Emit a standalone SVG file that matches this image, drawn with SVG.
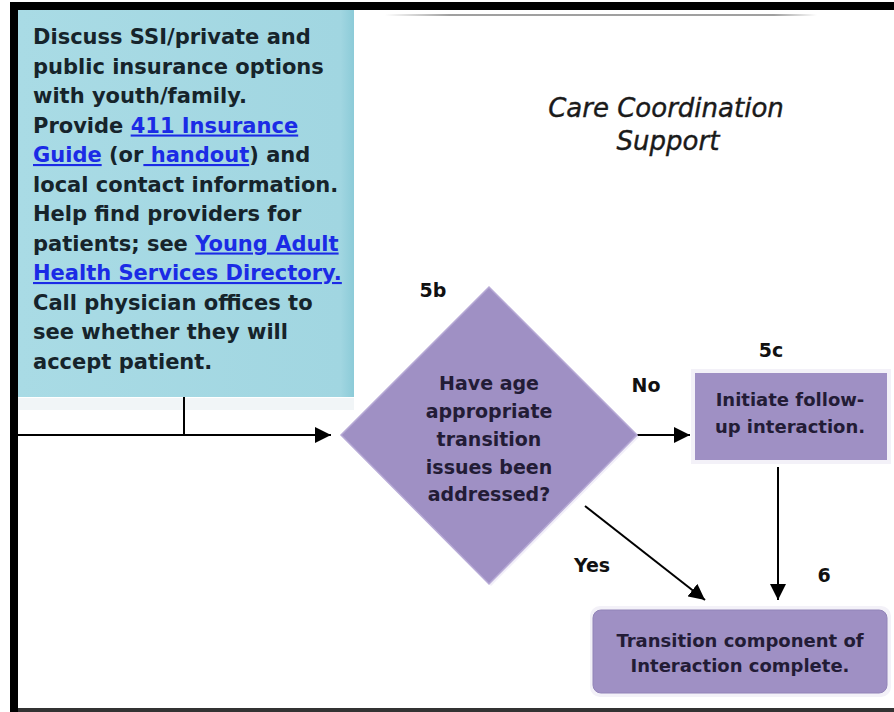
<svg xmlns="http://www.w3.org/2000/svg" width="894" height="712" viewBox="0 0 894 712">
  <defs>
    <style>
      .body { font-family: "DejaVu Sans", "Liberation Sans", sans-serif; font-weight: bold; font-size: 21px; fill: #16242b; }
      .link { fill: #1b2be6; text-decoration: underline; }
      .ptext { font-family: "DejaVu Sans", "Liberation Sans", sans-serif; fill: #231c36; text-anchor: middle; }
      .lbl { font-family: "DejaVu Sans", "Liberation Sans", sans-serif; font-weight: bold; font-size: 19px; fill: #111; text-anchor: middle; }
      .title { font-family: "DejaVu Sans", "Liberation Sans", sans-serif; font-style: italic; font-size: 26px; fill: #1a1a1a; stroke: #1a1a1a; stroke-width: 0.4; text-anchor: middle; }
      .conn { stroke: #000; stroke-width: 2; fill: none; }
      .purple { fill: #9f90c4; }
    </style>
    <marker id="arrowL" viewBox="0 0 10 10" refX="10" refY="5" markerWidth="8" markerHeight="8" orient="auto">
      <path d="M0,0 L10,5 L0,10 z" fill="#000"/>
    </marker>
    <linearGradient id="blueGrad" x1="0" y1="0" x2="1" y2="0">
      <stop offset="0" stop-color="#a9dbe5"/>
      <stop offset="0.96" stop-color="#a1d6e1"/>
      <stop offset="1" stop-color="#8ccbd8"/>
    </linearGradient>
    <linearGradient id="topLine" x1="0" y1="0" x2="1" y2="0">
      <stop offset="0" stop-color="#888" stop-opacity="0"/>
      <stop offset="0.15" stop-color="#888" stop-opacity="0.8"/>
      <stop offset="0.9" stop-color="#888" stop-opacity="0.8"/>
      <stop offset="1" stop-color="#888" stop-opacity="0"/>
    </linearGradient>
  </defs>

  <rect x="0" y="0" width="894" height="712" fill="#ffffff"/>

  <!-- frame -->
  <g id="frame">
    <rect x="10" y="2" width="884" height="8" fill="#000"/>
    <rect x="10" y="2" width="8" height="710" fill="#000"/>
    <rect x="18" y="708" width="876" height="4" fill="#333"/>
    <rect x="385" y="14" width="432" height="2" fill="url(#topLine)"/>
  </g>

  <!-- 5a: blue box -->
  <g id="node-5a">
    <rect x="18" y="398" width="336" height="12" fill="#f1f5f7"/>
    <rect x="18" y="10" width="336" height="387" fill="url(#blueGrad)"/>
    <text class="body" x="33" y="44">Discuss SSI/private and</text>
    <text class="body" x="33" y="73.5">public insurance options</text>
    <text class="body" x="33" y="103">with youth/family.</text>
    <text class="body" x="33" y="132.5">Provide <tspan class="link">411 Insurance</tspan></text>
    <text class="body" x="33" y="162"><tspan class="link">Guide</tspan> (or<tspan class="link"> handout</tspan>) and</text>
    <text class="body" x="33" y="191.5">local contact information.</text>
    <text class="body" x="33" y="221">Help find providers for</text>
    <text class="body" x="33" y="250.5">patients; see <tspan class="link">Young Adult</tspan></text>
    <text class="body" x="33" y="280"><tspan class="link">Health Services Directory.</tspan></text>
    <text class="body" x="33" y="309.5">Call physician offices to</text>
    <text class="body" x="33" y="339">see whether they will</text>
    <text class="body" x="33" y="368.5">accept patient.</text>
  </g>

  <!-- title -->
  <g id="title">
    <text class="title" x="666" y="117">Care Coordination</text>
    <text class="title" x="668" y="150">Support</text>
  </g>

  <!-- connectors -->
  <g id="connectors">
    <line class="conn" x1="184" y1="397" x2="184" y2="435"/>
    <line class="conn" x1="18" y1="435" x2="331" y2="435" marker-end="url(#arrowL)"/>
    <line class="conn" x1="636" y1="435" x2="690" y2="435" marker-end="url(#arrowL)"/>
    <line class="conn" x1="778" y1="467" x2="778" y2="600" marker-end="url(#arrowL)"/>
    <line class="conn" x1="585" y1="506" x2="705" y2="600" marker-end="url(#arrowL)"/>
  </g>

  <!-- 5b: decision diamond -->
  <g id="node-5b">
    <polygon points="489,287 637,435 489,584 341,435" fill="#f1eef8" transform="translate(2,2)"/>
    <polygon class="purple" points="489,287 637,435 489,584 341,435" fill="#9d8dc1" stroke="#b7aad6" stroke-width="1.5"/>
    <text class="ptext" font-weight="bold" font-size="19" x="489" y="390">Have age</text>
    <text class="ptext" font-weight="bold" font-size="19" x="489" y="418">appropriate</text>
    <text class="ptext" font-weight="bold" font-size="19" x="489" y="446">transition</text>
    <text class="ptext" font-weight="bold" font-size="19" x="489" y="474">issues been</text>
    <text class="ptext" font-weight="bold" font-size="19" x="489" y="501">addressed?</text>
  </g>

  <!-- 5c -->
  <g id="node-5c">
    <rect x="691" y="369" width="200" height="95" fill="#f3f1f8"/>
    <rect class="purple" x="695" y="373" width="192" height="87"/>
    <text class="ptext" font-weight="bold" font-size="18" x="790" y="406">Initiate follow-</text>
    <text class="ptext" font-weight="bold" font-size="18" x="790" y="433">up interaction.</text>
  </g>

  <!-- 6 -->
  <g id="node-6">
    <rect x="590" y="606" width="301" height="91" rx="10" fill="#f3f1f8"/>
    <rect class="purple" x="593" y="610" width="294" height="83" rx="8" stroke="#9284b8" stroke-width="1"/>
    <text class="ptext" font-weight="bold" font-size="18" x="740" y="647">Transition component of</text>
    <text class="ptext" font-weight="bold" font-size="18" x="740" y="672">Interaction complete.</text>
  </g>

  <!-- labels -->
  <g id="labels">
    <text class="lbl" x="433" y="297">5b</text>
    <text class="lbl" x="646" y="392">No</text>
    <text class="lbl" x="771" y="357">5c</text>
    <text class="lbl" x="592" y="572">Yes</text>
    <text class="lbl" x="824" y="582">6</text>
  </g>
</svg>
